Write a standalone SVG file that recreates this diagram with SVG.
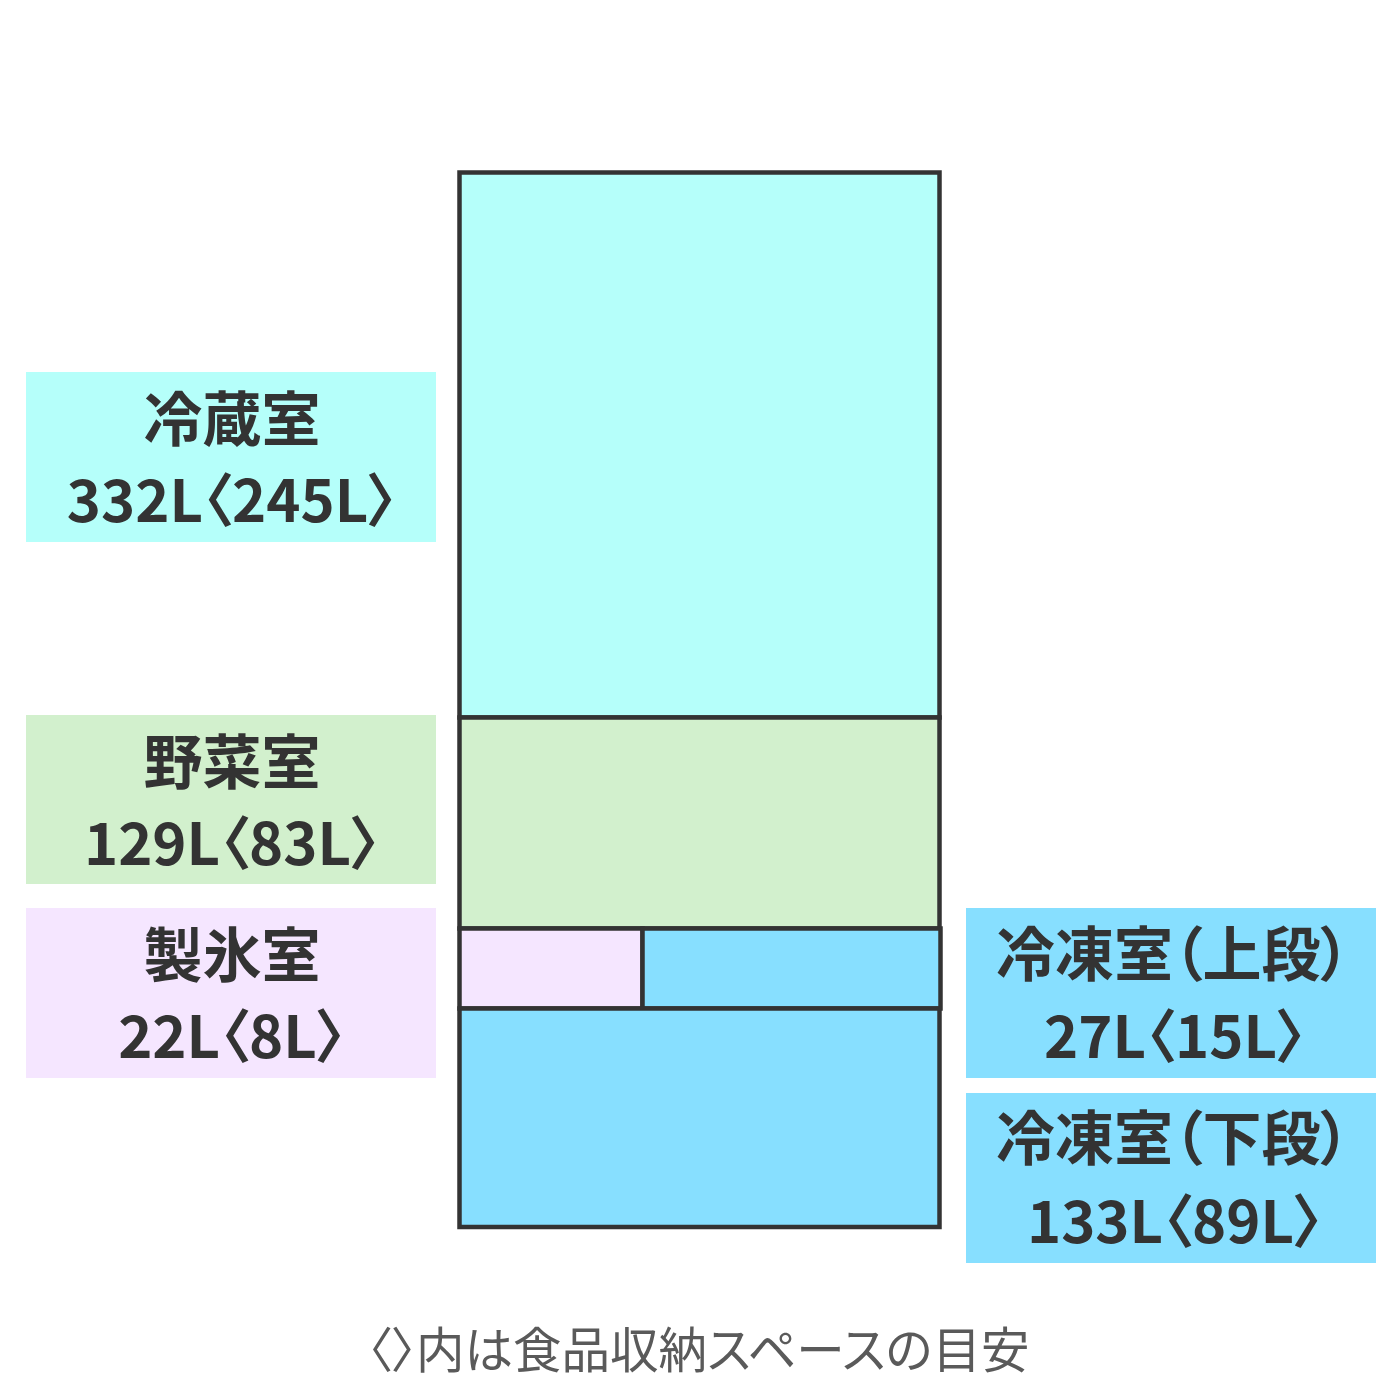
<svg xmlns="http://www.w3.org/2000/svg" width="1400" height="1400" viewBox="0 0 1400 1400">
<style>
.lbl{font-family:"Noto Sans CJK JP","Noto Sans",sans-serif;font-weight:700;font-size:59px;fill:#333333;text-anchor:middle;font-feature-settings:"palt";}
.num{font-size:58px;}
.note{font-family:"Noto Sans CJK JP","Noto Sans",sans-serif;font-weight:400;font-size:48.5px;fill:#5a5a5a;text-anchor:middle;font-feature-settings:"palt";}
.comp{stroke:#333333;stroke-width:4.5;}
</style>
<rect width="1400" height="1400" fill="#ffffff"/>
<g id="fridge">
<rect id="reizo" class="comp" x="459.5" y="172.5" width="480" height="545" fill="#b5fffa"/>
<rect id="yasai" class="comp" x="459.5" y="717.5" width="480" height="211" fill="#d2f0cd"/>
<rect id="seihyo" class="comp" x="459.5" y="928.5" width="183" height="80" fill="#f5e6ff"/>
<rect id="reito-jo" class="comp" x="642.5" y="928.5" width="298" height="80" fill="#87dfff"/>
<rect id="reito-ge" class="comp" x="459.5" y="1008.5" width="480" height="218.5" fill="#87dfff"/>
</g>
<g id="label-reizo">
<rect x="26" y="372" width="410" height="170" fill="#b5fffa"/>
<text class="lbl" x="232" y="441">冷蔵室</text>
<text class="lbl num" x="232" y="522">332L〈245L〉</text>
</g>
<g id="label-yasai">
<rect x="26" y="715" width="410" height="169" fill="#d2f0cd"/>
<text class="lbl" x="232" y="784">野菜室</text>
<text class="lbl num" x="232" y="865">129L〈83L〉</text>
</g>
<g id="label-seihyo">
<rect x="26" y="908" width="410" height="170" fill="#f5e6ff"/>
<text class="lbl" x="232" y="977">製氷室</text>
<text class="lbl num" x="232" y="1058">22L〈8L〉</text>
</g>
<g id="label-reito-jo">
<rect x="966" y="908" width="410" height="170" fill="#87dfff"/>
<text class="lbl" x="1173" y="976">冷凍室（上段）</text>
<text class="lbl num" x="1175" y="1058">27L〈15L〉</text>
</g>
<g id="label-reito-ge">
<rect x="966" y="1093" width="410" height="170" fill="#87dfff"/>
<text class="lbl" x="1173" y="1160">冷凍室（下段）</text>
<text class="lbl num" x="1175" y="1243">133L〈89L〉</text>
</g>
<g id="note">
<text class="note" x="698.5" y="1368">〈〉内は食品収納スペースの目安</text>
</g>
</svg>
